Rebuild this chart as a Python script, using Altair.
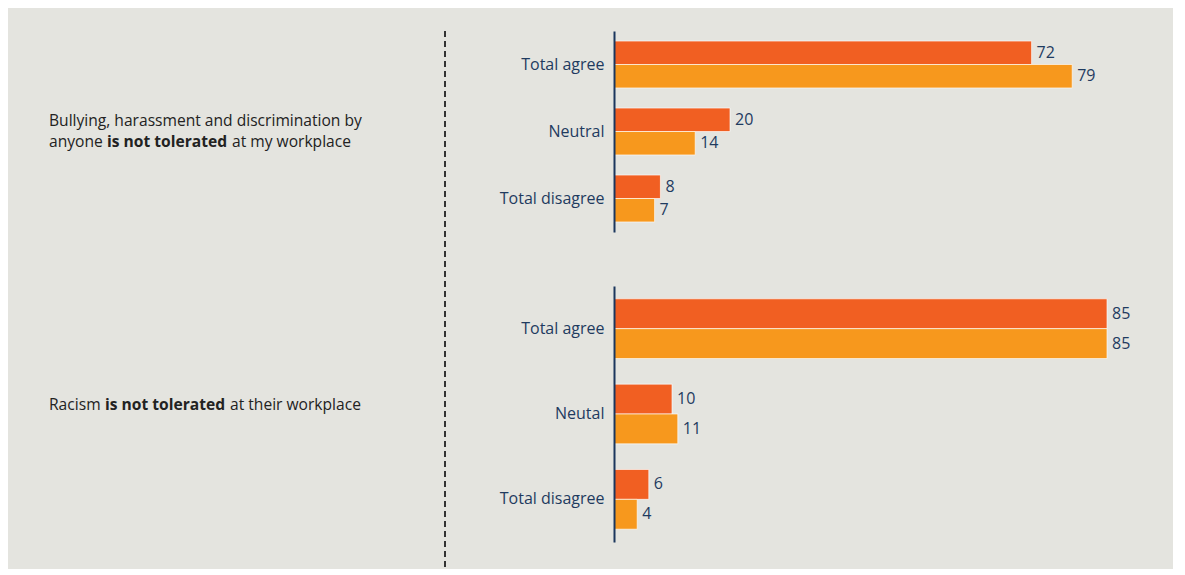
import altair as alt
import pandas as pd

# ---- data ----
series = ["Series 1", "Series 2"]
cats_top = ["Total agree", "Neutral\u00a0", "Total disagree"]
top_s1 = [72, 20, 8]
top_s2 = [79, 14, 7]
cats_bot = ["Total agree", "Neutal\u00a0", "Total disagree"]
bot_s1 = [85, 10, 6]
bot_s2 = [85, 11, 4]

q_top_line1 = "Bullying, harassment and discrimination by"
q_top_line2 = ["anyone", "is not tolerated", "at my workplace"]
q_bot_line = ["Racism", "is not tolerated", "at their workplace"]

# ---- style ----
BG = "#e4e4df"
NAVY = "#1b365d"
TXT = "#1f3b5f"
DARK = "#222222"
C1 = "#f15f22"
C2 = "#f7981d"
FONT = "Open Sans"
FS = 15.6
LFS = 16


def frame(cats, s1, s2):
    rows = []
    for c, a, b in zip(cats, s1, s2):
        rows.append({"cat": c, "series": series[0], "value": a})
        rows.append({"cat": c, "series": series[1], "value": b})
    return pd.DataFrame(rows)


def seg(text, x, y, bold=False):
    return alt.Chart(pd.DataFrame({"t": [text]})).mark_text(
        align="left", baseline="middle", font=FONT, fontSize=FS,
        fontWeight="bold" if bold else "normal", color=DARK
    ).encode(x=alt.value(x), y=alt.value(y), text="t:N")


def panel(cats, s1, s2, h, extra):
    df = frame(cats, s1, s2)
    base = alt.Chart(df).encode(
        y=alt.Y("cat:N", sort=cats,
                scale=alt.Scale(paddingInner=0.3, paddingOuter=0.15),
                axis=alt.Axis(title=None, ticks=False, domainColor=NAVY, domainWidth=2,
                              labelColor=TXT, labelFont=FONT, labelFontSize=LFS,
                              labelPadding=10, zindex=1)),
        yOffset=alt.YOffset("series:N", sort=series,
                            scale=alt.Scale(paddingInner=0, paddingOuter=0)),
        x=alt.X("value:Q", scale=alt.Scale(domain=[0, 95]), axis=None),
    )
    bars = base.mark_bar(stroke="#ffffff", strokeWidth=0.8, strokeOpacity=0.8).encode(
        color=alt.Color("series:N", scale=alt.Scale(domain=series, range=[C1, C2]), legend=None)
    )
    labels = base.mark_text(align="left", baseline="middle", dx=5, font=FONT,
                            fontSize=LFS, color=TXT).encode(text="value:Q")
    return alt.layer(bars, labels, *extra).properties(width=551, height=h)


dash = alt.Chart(pd.DataFrame({"a": [0]})).mark_rule(
    color="#333333", strokeWidth=2, strokeDash=[6, 4]
).encode(x=alt.value(-169), y=alt.value(0), y2=alt.value(537))

top_extra = [
    dash,
    seg(q_top_line1, -565, 90),
    seg(q_top_line2[0], -565, 111),
    seg(q_top_line2[1], -507, 111, bold=True),
    seg(q_top_line2[2], -382, 111),
]
bot_extra = [
    seg(q_bot_line[0], -565, 119),
    seg(q_bot_line[1], -509, 119, bold=True),
    seg(q_bot_line[2], -384, 119),
]

top = panel(cats_top, top_s1, top_s2, 201, top_extra)
bot = panel(cats_bot, bot_s1, bot_s2, 256, bot_extra)

chart = alt.vconcat(top, bot, spacing=54, bounds="flush").resolve_scale(
    y="independent", yOffset="independent", x="independent"
).properties(
    background=BG,
    padding={"left": 41, "top": 22, "right": 8, "bottom": 0},
).configure_view(stroke=None)

chart.save("out.html", embed_options={"renderer": "svg", "actions": False})
